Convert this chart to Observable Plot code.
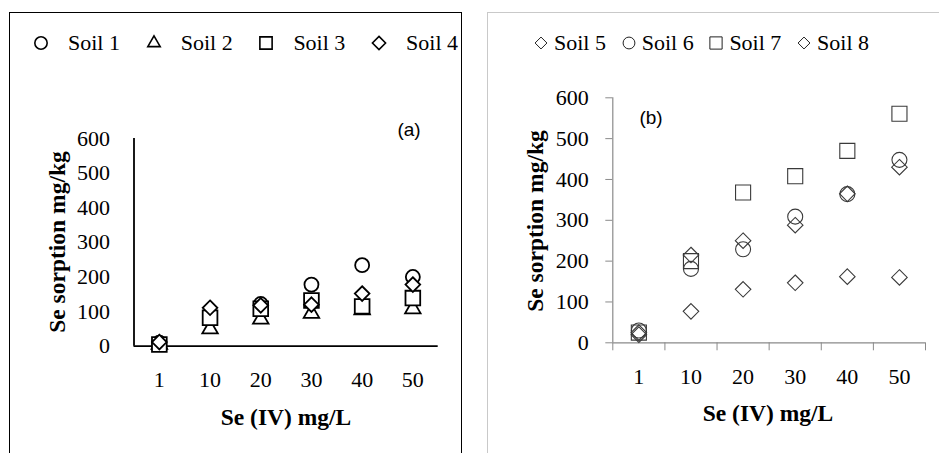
<!DOCTYPE html>
<html>
<head>
<meta charset="utf-8">
<script src="https://cdn.jsdelivr.net/npm/d3@7"></script>
<script src="https://cdn.jsdelivr.net/npm/@observablehq/plot@0.6"></script>
<style>
  html, body { margin: 0; padding: 0; background: #fff; }
  #root { position: relative; width: 939px; height: 453px; overflow: hidden; background: #fff; color: #000; }
  .frameA { position: absolute; left: 9px; top: 12px; width: 453px; height: 480px; border: 1.7px solid #000; box-sizing: border-box; }
  .frameB { position: absolute; left: 487px; top: 12px; width: 480px; height: 480px; border: 1px solid #c9c9c9; box-sizing: border-box; }
  .plot { position: absolute; top: 0; }
  .lbl { position: absolute; font-weight: bold; font-size: 23.5px; line-height: 24px; white-space: nowrap; transform: translate(-50%, -50%); }
  .ylbl { transform: translate(-50%, -50%) rotate(-90deg); }
  .tag { position: absolute; font-size: 19px; line-height: 20px; transform: translate(-50%, -50%); }
  .legend { position: absolute; top: 32px; display: flex; font-size: 22px; line-height: 22px; white-space: nowrap; }
  .legend .it { display: flex; align-items: center; }
  .legend svg { display: block; }
</style>
</head>
<body>
<div id="root">
  <div class="frameA"></div>
  <div class="frameB"></div>
</div>
<script>
// ---- data ----
const categories = ["1", "10", "20", "30", "40", "50"];
// panel (a)
const soil1 = [10, 82, 122, 178, 234, 200];
const soil2 = [5, 50, 78, 95, 105, 108];
const soil3 = [5, 82, 108, 132, 115, 139];
const soil4 = [12, 111, 118, 120, 152, 178];
// panel (b)
const soil5 = [20, 77, 131, 147, 162, 160];
const soil6 = [30, 181, 229, 309, 364, 448];
const soil7 = [25, 200, 368, 408, 470, 561];
const soil8 = [25, 215, 250, 288, 365, 430];
const yTicks = [0, 100, 200, 300, 400, 500, 600];
const legendA = ["Soil 1", "Soil 2", "Soil 3", "Soil 4"];
const legendB = ["Soil 5", "Soil 6", "Soil 7", "Soil 8"];

const SERIF = "'Liberation Serif'";
const SANS = "'Liberation Sans'";
const rows = (vals) => categories.map((c, i) => ({ xi: i + 0.5, cat: c, v: vals[i] }));
const catTicks = categories.map((c, i) => i + 0.5);
const bandEdges = d3.range(categories.length + 1);
const fmtCat = (t) => categories[Math.round(t - 0.5)];

const root = document.getElementById("root");
root.style.fontFamily = SERIF;
const baseStyle = { fontFamily: SERIF, fontSize: "22px", color: "#000", background: "transparent", overflow: "visible" };

function place(svg, left) {
  svg.classList.add("plot");
  svg.style.left = left + "px";
  svg.setAttribute("font-family", SERIF);
  svg.setAttribute("font-size", "22");
  svg.style.fontFamily = SERIF;
  svg.querySelectorAll("text, g").forEach(n => { if (n.hasAttribute("font-family")) n.setAttribute("font-family", SERIF); });
  root.appendChild(svg);
}

// ---- panel (a) ----
const K = "#000";
const A = Plot.plot({
  width: 470, height: 453,
  marginLeft: 133.5, marginRight: 32.3, marginTop: 138, marginBottom: 107.3,
  x: { domain: [0, categories.length] },
  y: { domain: [0, 600] },
  style: baseStyle,
  marks: [
    Plot.axisY({ ticks: yTicks, tickSize: 7, tickPadding: 17, stroke: "none", label: null, fill: K, fontSize: 22 }),
    Plot.axisX({ ticks: catTicks, tickSize: 0, tickPadding: 25, tickFormat: fmtCat, label: null, fill: K, fontSize: 22 }),
    Plot.ruleX([0], { stroke: K, strokeWidth: 1.8 }),
    Plot.ruleY([0], { stroke: K, strokeWidth: 1.8 }),
    Plot.dot(rows(soil1), { x: "xi", y: "v", symbol: "circle", r: 7, stroke: K, strokeWidth: 1.8, fill: "#fff" }),
    Plot.dot(rows(soil2), { x: "xi", y: "v", symbol: "triangle2", r: 7.4, stroke: K, strokeWidth: 1.8, fill: "#fff" }),
    Plot.dot(rows(soil3), { x: "xi", y: "v", symbol: "square", r: 8.3, stroke: K, strokeWidth: 1.8, fill: "#fff" }),
    Plot.dot(rows(soil4), { x: "xi", y: "v", symbol: "diamond2", r: 6.6, stroke: K, strokeWidth: 1.8, fill: "#fff" })
  ]
});
place(A, 0);

// ---- panel (b) ----
const G = "#8a8a8a";
const M = "#3a3a3a";
const B = Plot.plot({
  width: 469, height: 453,
  marginLeft: 142.3, marginRight: 14, marginTop: 97.3, marginBottom: 110.7,
  x: { domain: [0, categories.length] },
  y: { domain: [0, 600] },
  style: baseStyle,
  marks: [
    Plot.axisY({ ticks: yTicks, tickSize: 7, tickPadding: 17, label: null, stroke: G, fill: "#000", fontSize: 22 }),
    Plot.axisX({ ticks: bandEdges, tickSize: 8, tickFormat: () => "", label: null, stroke: G }),
    Plot.axisX({ ticks: catTicks, tickSize: 0, tickPadding: 26, tickFormat: fmtCat, label: null, fill: "#000", fontSize: 22 }),
    Plot.ruleX([0], { stroke: G, strokeWidth: 1.2 }),
    Plot.ruleY([0], { stroke: G, strokeWidth: 1.2 }),
    Plot.dot(rows(soil7), { x: "xi", y: "v", symbol: "square", r: 8.5, stroke: M, strokeWidth: 1.1, fill: "none" }),
    Plot.dot(rows(soil6), { x: "xi", y: "v", symbol: "circle", r: 7.5, stroke: M, strokeWidth: 1.1, fill: "none" }),
    Plot.dot(rows(soil5), { x: "xi", y: "v", symbol: "diamond2", r: 7, stroke: M, strokeWidth: 1.1, fill: "none" }),
    Plot.dot(rows(soil8), { x: "xi", y: "v", symbol: "diamond2", r: 7, stroke: M, strokeWidth: 1.1, fill: "none" })
  ]
});
place(B, 470);

// ---- text labels ----
function addDiv(cls, text, x, y, fam) {
  const d = document.createElement("div");
  d.className = cls;
  d.textContent = text;
  d.style.left = x + "px";
  d.style.top = y + "px";
  d.style.fontFamily = fam;
  root.appendChild(d);
  return d;
}
addDiv("lbl", "Se (IV) mg/L", 286, 417, SERIF);
addDiv("lbl ylbl", "Se sorption mg/kg", 57, 242, SERIF);
addDiv("lbl", "Se (IV) mg/L", 768, 413, SERIF);
addDiv("lbl ylbl", "Se sorption mg/kg", 535, 221, SERIF);
addDiv("tag", "(a)", 409, 130, SANS);
addDiv("tag", "(b)", 651, 118, SANS);

// ---- legends ----
function symPath(name, size) {
  const map = { circle: d3.symbolCircle, triangle2: d3.symbolTriangle2, square: d3.symbolSquare, diamond2: d3.symbolDiamond2 };
  return d3.symbol(map[name], size)();
}
function legend(left, labels, syms, sizes, opts) {
  const L = document.createElement("div");
  L.className = "legend";
  L.style.left = left + "px";
  L.style.fontFamily = SERIF;
  labels.forEach((t, i) => {
    const it = document.createElement("div");
    it.className = "it";
    it.style.width = opts.itemW + "px";
    const w = opts.symW;
    const s = d3.create("svg").attr("width", w).attr("height", 22).attr("viewBox", `${-w/2} -11 ${w} 22`);
    s.append("path").attr("d", symPath(syms[i], sizes[i])).attr("fill", "none")
      .attr("stroke", opts.stroke).attr("stroke-width", opts.sw);
    it.appendChild(s.node());
    const tx = document.createElement("span");
    tx.textContent = t;
    tx.style.marginLeft = opts.gap + "px";
    tx.style.fontFamily = SERIF;
    it.appendChild(tx);
    L.appendChild(it);
  });
  root.appendChild(L);
}
const aSyms = ["circle", "triangle2", "square", "diamond2"];
const bSyms = ["diamond2", "circle", "square", "diamond2"];
legend(33, legendA, aSyms, [120, 110, 150, 110], { itemW: 112.7, symW: 16, gap: 19, stroke: "#000", sw: 1.6 });
legend(532, legendB, bSyms, [90, 110, 150, 90], { itemW: 87.7, symW: 18, gap: 4, stroke: "#222", sw: 1 });
</script>
</body>
</html>
